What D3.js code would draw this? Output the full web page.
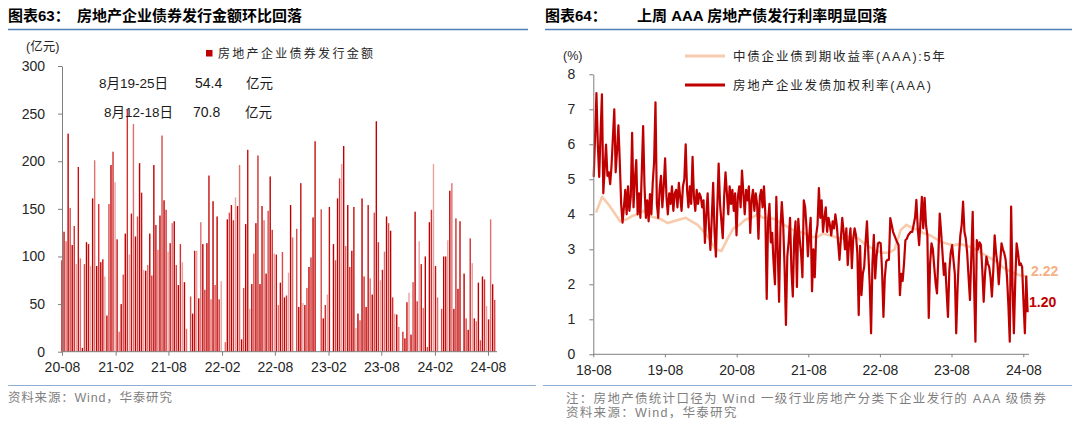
<!DOCTYPE html>
<html><head><meta charset="utf-8">
<script src="https://cdn.jsdelivr.net/npm/d3@7"></script>
<style>
body{margin:0;background:#fff;}
svg{display:block;font-family:"Liberation Sans",Arial,"Noto Sans CJK SC",sans-serif;}
</style></head><body>
<svg id="c" width="1080" height="430"></svg>
<script>
// ---------- Left chart data: weekly issuance (亿元) ----------
const barStartDate = "2020-08-01";
const barValues = [
96,126,116,229,151,112,132,92,194,98,4,92,115,113,90,161,201,90,155,94,
97,79,38,155,196,210,178,118,21,50,81,124,254,102,145,239,121,142,198,167,
86,85,91,124,80,196,133,107,143,227,159,149,105,114,135,137,91,70,113,94,
73,24,0,58,40,106,106,56,136,113,65,114,185,55,158,70,142,55,74,0,
10,139,146,154,138,162,153,196,13,67,134,212,45,71,103,135,206,71,153,138,
82,148,184,128,103,102,49,
72.5,104.7,57,59,83,154,120,0,129,47,177,51,49,67,89,99,141,221,0,0,
149.5,35,49,60,152,0,113,96,161,182,197,216,111,154,89,106,152,25,40,33,
161,79,47,154,77,60,146,242,115,75,86,105,142,135,127,57,40,39,26,0,
21,14,52,62,18,73,147,53,116,92,46,100,5,136,149,197,90,57,0,45,
100,100,117,169,177,45,140,66,137,0,82,35,23,119,93,35,32,72.5,12,79,
76,48,34,139,70.8,54.4
];
const barTickLabels = ["20-08","21-02","21-08","22-02","22-08","23-02","23-08","24-02","24-08"];
const barYTicks = [0,50,100,150,200,250,300];
const annotRows = [["8月19-25日","54.4","亿元"],["8月12-18日","70.8","亿元"]];

// ---------- Right chart data ----------
const rateStartDate = "2018-08-03"; // weekly
const rateValues = [
5.07,6.2,7.46,6.0,5.07,6.3,7.43,4.6,5.3,5.99,5.1,5.2,4.86,5.4,6.2,7.0,5.2,5.8,6.54,5.5,4.3,3.76,
4.2,4.7,4.0,4.8,4.1,4.5,6.33,4.2,5.0,5.55,4.0,4.6,3.9,5.2,6.52,4.8,3.9,4.4,3.8,4.58,4.0,4.9,5.5,7.2,
4.3,3.9,4.7,5.1,4.2,4.8,5.6,4.5,4.0,4.6,4.3,4.8,4.1,4.6,4.7,4.2,4.9,4.5,4.1,4.8,5.0,6.0,4.7,4.2,4.8,4.3,5.64,4.5,4.1,4.7,4.3,4.6,
4.5,4.2,4.4,3.18,4.0,4.6,3.6,2.98,3.9,4.9,3.5,2.79,4.2,5.45,4.3,3.8,3.32,4.5,5.2,4.6,4.0,4.8,4.3,4.7,
4.1,4.6,3.4,4.5,4.8,4.2,5.25,4.6,4.0,4.7,4.4,4.8,3.47,4.4,4.7,4.1,4.6,4.3,3.3,4.5,4.7,4.2,4.8,4.0,
1.58,3.8,4.3,3.2,3.47,2.6,2.0,4.5,3.0,1.5,3.6,4.35,3.7,2.5,0.84,2.8,3.23,3.9,2.4,1.65,3.3,3.8,1.92,3.87,3.3,2.9,2.2,
4.4,4.2,3.6,2.8,3.4,3.9,1.8,3.0,2.2,3.4,3.7,4.75,3.9,4.4,3.5,3.9,4.2,3.5,3.9,3.7,3.4,3.8,3.6,4.0,3.7,3.2,2.7,
3.3,3.9,3.5,3.0,3.6,2.55,3.2,3.6,2.46,3.3,3.6,3.4,2.9,1.12,3.1,1.69,2.3,2.5,3.2,3.8,2.9,2.0,0.6,2.6,3.41,2.17,2.8,3.17,3.2,3.17,
2.4,1.07,2.2,2.65,2.7,2.7,3.89,3.7,3.5,3.4,3.3,3.2,3.12,1.69,2.3,2.1,2.6,3.26,3.3,3.4,3.45,3.5,3.5,3.7,3.9,4.41,3.6,3.12,3.8,4.5,
3.6,4.47,3.7,3.4,1.04,2.6,3.17,3.0,2.5,2.03,1.74,2.8,4.02,3.5,2.9,2.27,2.6,1.8,1.07,2.4,2.9,3.12,2.7,2.3,0.6,1.9,2.8,3.4,3.7,4.36,
3.5,3.3,2.89,2.2,1.55,2.8,4.07,2.0,0.36,3.26,3.0,3.2,3.12,2.4,1.5,2.3,2.79,2.6,2.5,2.2,1.65,2.4,3.4,2.9,2.6,2.0,2.6,3.17,3.0,2.89,
2.7,2.2,1.4,0.36,4.22,2.0,0.6,2.1,3.17,2.9,2.55,2.6,2.5,1.5,0.6,2.22,1.20
];
const yieldStartMonth = "2018-08"; // monthly, last point on yieldEndDate
const yieldEndDate = "2024-08-23";
const yieldValues = [
4.05,4.5,4.3,4.05,3.8,3.85,3.95,4.0,4.1,3.95,3.9,3.85,3.75,3.8,3.85,3.9,3.8,3.7,3.5,3.3,3.0,2.95,3.3,3.6,
3.7,3.85,3.9,4.0,3.9,3.9,3.85,3.75,3.65,3.55,3.5,3.45,3.35,3.35,3.45,3.4,3.35,3.3,3.35,3.35,3.3,3.15,3.05,2.95,
2.9,2.9,3.0,3.55,3.7,3.6,3.55,3.45,3.4,3.3,3.2,3.15,3.12,3.15,3.1,3.05,2.95,2.85,2.75,2.65,2.5,2.4,2.32,2.26,2.22
];
const rateTickLabels = ["18-08","19-08","20-08","21-08","22-08","23-08","24-08"];
const rateYTicks = [0,1,2,3,4,5,6,7,8];
const legendLabels = ["中债企业债到期收益率(AAA):5年","房地产企业发债加权利率(AAA)"];
const endLabels = ["2.22","1.20"];

// ---------- drawing ----------
const svg = d3.select("#c");
svg.append("rect").attr("width",1080).attr("height",430).attr("fill","#fff");
const parseTick = s => new Date(2000 + +s.slice(0,2), +s.slice(3,5)-1, 1);
const AX = "#7f7f7f", TXT = "#262626", RED = "#c00000", PEACH = "#f8cbad";
const barShades = ["#c00000","#c00000","#c00000","#c81010","#d03030","#d84a4a","#e07070","#eaa2a2"];
const shadeOf = i => barShades[(((i*2654435761)>>>0) >>> 7) % barShades.length];

// titles and rules
function title(x, x2, label, main, mainX){
  svg.append("text").attr("x",x).attr("y",21).attr("font-size",15).attr("font-weight","bold").attr("fill","#000").text(label);
  svg.append("text").attr("x",mainX).attr("y",21).attr("font-size",15).attr("font-weight","bold").attr("fill","#000").text(main);
  svg.append("line").attr("x1",x).attr("x2",x2).attr("y1",29.5).attr("y2",29.5).attr("stroke","#4f7fb8").attr("stroke-width",1.5);
}
title(8, 528, "图表63：", "房地产企业债券发行金额环比回落", 77);
title(545, 1072, "图表64：", "上周 AAA 房地产债发行利率明显回落", 637);

// ---- left chart ----
const xL = d3.scaleTime().domain([new Date(2020,7,1), new Date(2024,7,1)]).range([62,488]);
const yL = d3.scaleLinear().domain([0,300]).range([351.7,66]);
const bStart = new Date(barStartDate+"T00:00:00");
const bars = barValues.map((v,i)=>({date:d3.timeDay.offset(bStart,7*i), v, i}));
svg.append("g").selectAll("rect").data(bars).join("rect")
  .attr("x",d=>xL(d.date)-0.7).attr("width",1.4)
  .attr("y",d=>yL(d.v)).attr("height",d=>yL(0)-yL(d.v))
  .attr("fill",d=>shadeOf(d.i));

const gyL = svg.append("g").attr("transform","translate(62,0)")
  .call(d3.axisLeft(yL).tickValues(barYTicks).tickSize(4).tickPadding(13).tickSizeOuter(0));
gyL.select(".domain").attr("stroke",AX);
gyL.selectAll(".tick line").attr("stroke",AX);
gyL.selectAll("text").attr("font-size",14).attr("fill",TXT).attr("font-family","Liberation Sans, Arial");

const gxL = svg.append("g").attr("transform","translate(0,351.7)")
  .call(d3.axisBottom(xL).tickValues(barTickLabels.map(parseTick)).tickFormat((d,i)=>barTickLabels[i]).tickSize(4).tickPadding(6));
gxL.select(".domain").remove();
gxL.selectAll(".tick line").attr("stroke",AX);
gxL.selectAll("text").attr("font-size",14).attr("fill",TXT).attr("font-family","Liberation Sans, Arial");
svg.append("line").attr("x1",62).attr("x2",497).attr("y1",351.7).attr("y2",351.7).attr("stroke",AX);

svg.append("text").attr("x",26).attr("y",51).attr("font-size",12.5).attr("fill",TXT).text("(亿元)");
svg.append("rect").attr("x",206).attr("y",50).attr("width",6.5).attr("height",6.5).attr("fill",RED);
svg.append("text").attr("x",218).attr("y",58).attr("font-size",12).attr("letter-spacing",2.3).attr("fill",TXT).text("房地产企业债券发行金额");

const annX = [[99,195,246],[104,193,245]];
const annY = [88,117];
annotRows.forEach((row,r)=>{
  row.forEach((t,c)=>{
    svg.append("text").attr("x",annX[r][c]).attr("y",annY[r]).attr("font-size",c===1?14:13.5).attr("fill","#1a1a1a").text(t);
  });
});

svg.append("line").attr("x1",8).attr("x2",536).attr("y1",385.5).attr("y2",385.5).attr("stroke","#8eaed6").attr("stroke-width",1);
svg.append("text").attr("x",8).attr("y",402).attr("font-size",12.5).attr("letter-spacing",0.8).attr("fill","#7f7f7f").text("资料来源：Wind，华泰研究");

// ---- right chart ----
const xR = d3.scaleTime().domain([new Date(2018,7,1), new Date(2024,7,1)]).range([593.3,1023.3]);
const yR = d3.scaleLinear().domain([0,8]).range([354.3,74.3]);
const rStart = new Date(rateStartDate+"T00:00:00");
const rate = rateValues.map((v,i)=>({date:d3.timeDay.offset(rStart,7*i), v}));
const yStart = new Date(yieldStartMonth+"-15T00:00:00");
const yld = yieldValues.map((v,i)=>({date: i===yieldValues.length-1 ? new Date(yieldEndDate+"T00:00:00") : d3.timeMonth.offset(yStart,i), v}));
const line = d3.line().x(d=>xR(d.date)).y(d=>yR(d.v));

svg.append("path").datum(yld).attr("d",line).attr("fill","none").attr("stroke",PEACH).attr("stroke-width",2.6).attr("stroke-linejoin","round");
svg.append("path").datum(rate).attr("d",line).attr("fill","none").attr("stroke",RED).attr("stroke-width",2.2).attr("stroke-linejoin","round");

const gyR = svg.append("g").attr("transform","translate(593.3,0)")
  .call(d3.axisLeft(yR).tickValues(rateYTicks).tickSize(4).tickPadding(14).tickSizeOuter(0));
gyR.select(".domain").attr("stroke",AX);
gyR.selectAll(".tick line").attr("stroke",AX);
gyR.selectAll("text").attr("font-size",14).attr("fill",TXT).attr("font-family","Liberation Sans, Arial");

const gxR = svg.append("g").attr("transform","translate(0,354.3)")
  .call(d3.axisBottom(xR).tickValues(rateTickLabels.map(parseTick)).tickFormat((d,i)=>rateTickLabels[i]).tickSize(3).tickPadding(8));
gxR.select(".domain").remove();
gxR.selectAll(".tick line").attr("stroke",AX);
gxR.selectAll("text").attr("font-size",14).attr("fill",TXT).attr("font-family","Liberation Sans, Arial");
svg.append("line").attr("x1",593.3).attr("x2",1029).attr("y1",354.3).attr("y2",354.3).attr("stroke",AX);

svg.append("text").attr("x",563).attr("y",60).attr("font-size",12.5).attr("fill",TXT).text("(%)");
const legColors = [PEACH, RED];
const legY = [56,85];
legendLabels.forEach((t,i)=>{
  svg.append("line").attr("x1",685).attr("x2",725).attr("y1",legY[i]).attr("y2",legY[i]).attr("stroke",legColors[i]).attr("stroke-width",3);
  svg.append("text").attr("x",733).attr("y",legY[i]+4.5).attr("font-size",12.5).attr("letter-spacing",1.8).attr("fill",TXT).text(t);
});
svg.append("text").attr("x",1031).attr("y",276).attr("font-size",14).attr("font-weight","bold").attr("fill","#f4b183").text(endLabels[0]);
svg.append("text").attr("x",1029).attr("y",307).attr("font-size",14).attr("font-weight","bold").attr("fill",RED).text(endLabels[1]);

svg.append("line").attr("x1",543).attr("x2",1072).attr("y1",385.5).attr("y2",385.5).attr("stroke","#8eaed6").attr("stroke-width",1);
svg.append("text").attr("x",566).attr("y",403).attr("font-size",12.5).attr("letter-spacing",1.3).attr("fill","#7f7f7f").text("注：房地产债统计口径为 Wind 一级行业房地产分类下企业发行的 AAA 级债券");
svg.append("text").attr("x",566).attr("y",417).attr("font-size",12.5).attr("letter-spacing",1.3).attr("fill","#7f7f7f").text("资料来源：Wind，华泰研究");
</script>
</body></html>
